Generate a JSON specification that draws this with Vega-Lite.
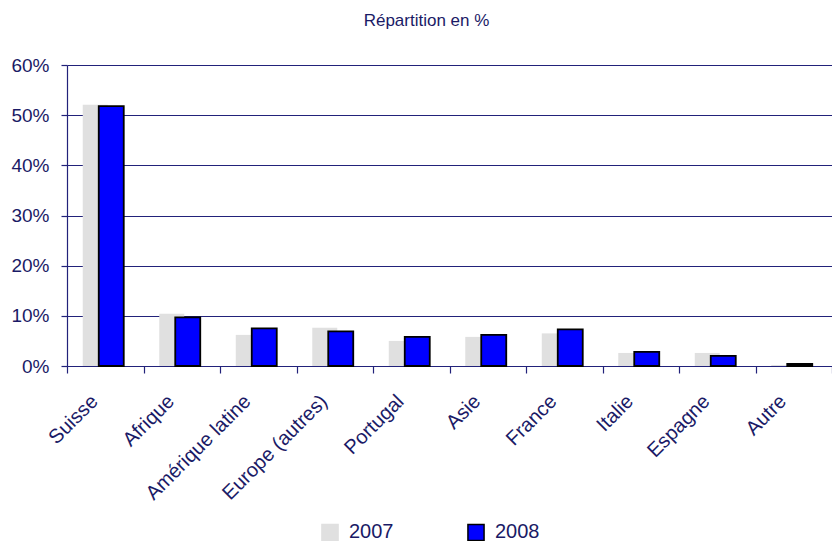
{
  "$schema": "https://vega.github.io/schema/vega-lite/v6.json",
  "width": 765,
  "height": 301,
  "autosize": {"type": "none"},
  "padding": {"left": 67, "top": 65, "right": 0, "bottom": 175},
  "background": "white",
  "config": {
    "view": {"stroke": null},
    "font": "Liberation Sans",
    "axis": {"labelFont": "Liberation Sans", "labelColor": "#1a1a66", "domainColor": "#22227a", "tickColor": "#22227a", "gridColor": "#22227a", "gridOpacity": 1, "domainWidth": 1.2, "tickWidth": 1.2}
  },
  "title": {"text": "Répartition en %", "fontSize": 17, "font": "Liberation Sans", "fontWeight": "normal", "color": "#1a1a66", "offset": 26, "anchor": "middle", "dx": -23},
  "data": {
    "values": [
      {"pays": "Suisse", "annee": "2007", "val": 52.1},
      {"pays": "Suisse", "annee": "2008", "val": 51.8},
      {"pays": "Afrique", "annee": "2007", "val": 10.4},
      {"pays": "Afrique", "annee": "2008", "val": 9.7},
      {"pays": "Amérique latine", "annee": "2007", "val": 6.2},
      {"pays": "Amérique latine", "annee": "2008", "val": 7.5},
      {"pays": "Europe (autres)", "annee": "2007", "val": 7.6},
      {"pays": "Europe (autres)", "annee": "2008", "val": 6.9},
      {"pays": "Portugal", "annee": "2007", "val": 5.0},
      {"pays": "Portugal", "annee": "2008", "val": 5.8},
      {"pays": "Asie", "annee": "2007", "val": 5.8},
      {"pays": "Asie", "annee": "2008", "val": 6.2},
      {"pays": "France", "annee": "2007", "val": 6.5},
      {"pays": "France", "annee": "2008", "val": 7.3},
      {"pays": "Italie", "annee": "2007", "val": 2.6},
      {"pays": "Italie", "annee": "2008", "val": 2.8},
      {"pays": "Espagne", "annee": "2007", "val": 2.6},
      {"pays": "Espagne", "annee": "2008", "val": 2.0},
      {"pays": "Autre", "annee": "2007", "val": 0.2},
      {"pays": "Autre", "annee": "2008", "val": 0.4}
    ]
  },
  "encoding": {
    "x": {"field": "pays", "type": "nominal", "sort": null, "scale": {"paddingInner": 0, "paddingOuter": 0},
      "axis": {"title": null, "labelAngle": -45, "labelFontSize": 20, "labelPadding": 25, "labelOffset": -11, "tickBand": "extent", "tickSize": 7, "grid": false, "labelAlign": "right", "labelBaseline": "middle"}},
    "y": {"field": "val", "type": "quantitative", "scale": {"domain": [0, 60]},
      "axis": {"title": null, "values": [0, 10, 20, 30, 40, 50, 60], "labelExpr": "datum.value + '%'", "labelFontSize": 19, "labelPadding": 12, "tickSize": 6, "grid": true, "gridWidth": 1}},
    "color": {"field": "annee", "type": "nominal", "scale": {"domain": ["2007", "2008"], "range": ["#e0e0e0", "#0000ff"]},
      "legend": {"title": null, "orient": "none", "legendX": 253, "legendY": 457, "direction": "horizontal", "symbolType": "square", "symbolSize": 260, "labelFontSize": 20, "labelColor": "#1a1a66", "labelOffset": 9, "columnPadding": 70, "symbolStrokeWidth": 1.5}},
    "stroke": {"field": "annee", "type": "nominal", "scale": {"domain": ["2007", "2008"], "range": ["#e0e0e0", "#000000"]}, "legend": null}
  },
  "layer": [
    {
      "transform": [{"filter": "datum.annee == '2007'"}],
      "mark": {"type": "bar", "width": 25, "xOffset": -10, "strokeWidth": 0}
    },
    {
      "transform": [{"filter": "datum.annee == '2008'"}],
      "mark": {"type": "bar", "width": 25, "xOffset": 6, "strokeWidth": 1.8}
    }
  ]
}
